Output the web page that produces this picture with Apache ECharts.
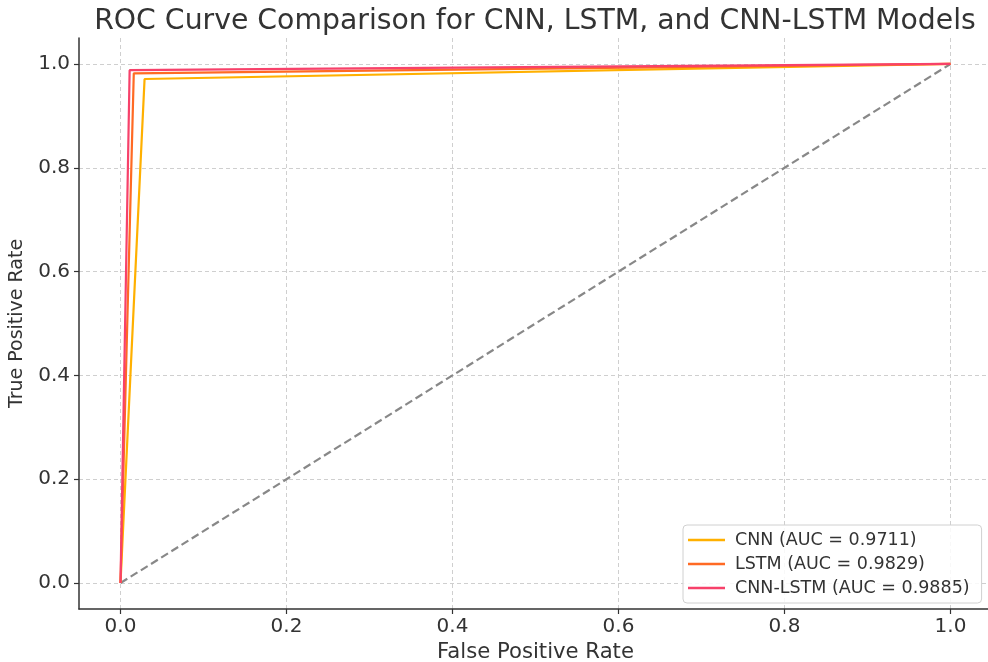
<!DOCTYPE html>
<html>
<head>
<meta charset="utf-8">
<script src="https://cdn.jsdelivr.net/npm/echarts@6/dist/echarts.min.js"></script>
<style>html,body{margin:0;padding:0;background:#fff;}#c{width:988px;height:662px;}</style>
</head>
<body>
<div id="c"></div>
<script>
var tickValues = [0.0, 0.2, 0.4, 0.6, 0.8, 1.0];
var seriesNames = ['CNN (AUC = 0.9711)', 'LSTM (AUC = 0.9829)', 'CNN-LSTM (AUC = 0.9885)'];
var cnnFpr = [0.0, 0.029, 1.0];
var cnnTpr = [0.0, 0.971, 1.0];
var lstmFpr = [0.0, 0.016, 1.0];
var lstmTpr = [0.0, 0.982, 1.0];
var cnnLstmFpr = [0.0, 0.011, 1.0];
var cnnLstmTpr = [0.0, 0.988, 1.0];
var chanceLine = [[0, 0], [1, 1]];
var colors = ['#FFB000', '#FF6A24', '#F7416A'];

function pairs(xs, ys) { return xs.map(function (x, i) { return [x, ys[i]]; }); }

var font = 'DejaVu Sans';
var chart = echarts.init(document.getElementById('c'), null, {renderer: 'canvas'});

var gridLineStyle = {color: '#cfcfcf', type: [4, 3], width: 1};
var gridMarks = [];
tickValues.forEach(function (v) {
  gridMarks.push({xAxis: v});
  gridMarks.push({yAxis: v});
});

function lineSeries(name, data, color, z) {
  return {
    name: name, type: 'line', data: data, showSymbol: false, symbol: 'none',
    lineStyle: {color: color, width: 2.2}, itemStyle: {color: color},
    z: z, animation: false
  };
}

chart.setOption({
  animation: false,
  title: {
    text: 'ROC Curve Comparison for CNN, LSTM, and CNN-LSTM Models',
    left: 530, top: 3, textAlign: 'center',
    textStyle: {fontFamily: font, fontSize: 28.3, fontWeight: 'normal', color: '#333'}
  },
  grid: {left: 79, right: -4, top: 38, bottom: 53, containLabel: false, outerBoundsMode: 'none'},
  xAxis: {
    type: 'value', min: -0.05, max: 1.05,
    name: 'False Positive Rate', nameLocation: 'middle', nameGap: 30,
    nameTextStyle: {fontFamily: font, fontSize: 21.2, color: '#333'},
    axisLine: {show: true, onZero: false, lineStyle: {color: '#333', width: 1.5}},
    axisTick: {show: true, customValues: tickValues, length: 5, inside: false, lineStyle: {color: '#333', width: 1.2}},
    axisLabel: {customValues: tickValues, fontFamily: font, fontSize: 20, color: '#333', margin: 8,
      formatter: function (v) { return v.toFixed(1); }},
    splitLine: {show: false}
  },
  yAxis: {
    type: 'value', min: -0.05, max: 1.05,
    name: 'True Positive Rate', nameLocation: 'middle', nameGap: 52,
    nameTextStyle: {fontFamily: font, fontSize: 19, color: '#333'},
    axisLine: {show: true, onZero: false, lineStyle: {color: '#333', width: 1.5}},
    axisTick: {show: true, customValues: tickValues, length: 5, inside: false, lineStyle: {color: '#333', width: 1.2}},
    axisLabel: {customValues: tickValues, fontFamily: font, fontSize: 20, color: '#333', margin: 9,
      formatter: function (v) { return v.toFixed(1); }},
    splitLine: {show: false}
  },
  legend: {
    orient: 'vertical', left: 683, top: 525,
    data: seriesNames.map(function (n) { return {name: n, icon: 'rect'}; }),
    itemWidth: 37, itemHeight: 2.5, itemGap: 6,
    padding: [6, 12, 6, 5],
    backgroundColor: 'rgba(255,255,255,0.85)', borderColor: '#d0d0d0', borderWidth: 1, borderRadius: 4,
    textStyle: {fontFamily: font, fontSize: 17.5, color: '#333', padding: [0, 0, 0, 5], lineHeight: 18}
  },
  series: [
    {
      type: 'line', data: chanceLine, showSymbol: false, symbol: 'none', silent: true,
      lineStyle: {color: '#888', width: 2.2, type: [8, 4]}, z: 1,
      markLine: {silent: true, symbol: 'none', label: {show: false}, lineStyle: gridLineStyle, data: gridMarks, z: 0, animation: false}
    },
    lineSeries(seriesNames[0], pairs(cnnFpr, cnnTpr), colors[0], 3),
    lineSeries(seriesNames[1], pairs(lstmFpr, lstmTpr), colors[1], 4),
    lineSeries(seriesNames[2], pairs(cnnLstmFpr, cnnLstmTpr), colors[2], 5)
  ]
});
</script>
</body>
</html>
